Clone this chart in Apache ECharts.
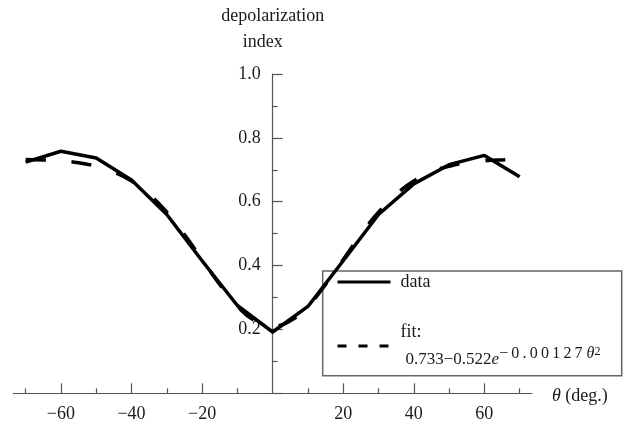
<!DOCTYPE html>
<html>
<head>
<meta charset="utf-8">
<script src="https://cdn.jsdelivr.net/npm/echarts@6/dist/echarts.min.js"></script>
<style>html,body{margin:0;padding:0;background:#fff}#c{width:624px;height:428px}</style>
</head>
<body>
<div id="c"></div>
<script>
// ---- data ----
var dataTheta = [-70, -60, -50, -40, -30, -20, -10, 0, 10, 20, 30, 40, 50, 60, 70];
var dataValues = [0.724, 0.758, 0.737, 0.668, 0.560, 0.415, 0.275, 0.192, 0.272, 0.415, 0.560, 0.656, 0.716, 0.745, 0.678];

var fitTheta = [-70, -65, -60, -55, -50, -45, -40, -35, -30, -25, -20, -15, -10, -5, 0, 5, 10, 15, 20, 25, 30, 35, 40, 45, 50, 55, 60, 65, 70];
var fitValues = [0.732, 0.731, 0.728, 0.722, 0.711, 0.693, 0.665, 0.623, 0.567, 0.497, 0.419, 0.341, 0.273, 0.227, 0.211, 0.227, 0.273, 0.341, 0.419, 0.497, 0.567, 0.623, 0.665, 0.693, 0.711, 0.722, 0.728, 0.731, 0.732];

var xMajorTicks = [-60, -40, -20, 20, 40, 60];
var xMinorTicks = [-70, -50, -30, -10, 10, 30, 50, 70];
var yTickLabels = ['0.2', '0.4', '0.6', '0.8', '1.0'];

var seriesNames = ['data', 'fit'];

// ---- chart ----
var FONT = 'Liberation Serif';
var TXT = '#1a1a1a';
var AX = '#555';
var GRID_LEFT = 13.3, GRID_RIGHT = 92, X_MIN = -73.5, X_MAX = 73.5;
var PLOT_W = 624 - GRID_LEFT - GRID_RIGHT;
// shift the y axis so it sits at theta = 0
var Y_OFFSET = -((0 - X_MIN) / (X_MAX - X_MIN)) * PLOT_W;

function pairs(xs, ys) { return xs.map(function (x, i) { return [x, ys[i]]; }); }
function spaced(s) { return s.split('').join('\u2009'); }

var chart = echarts.init(document.getElementById('c'), null, { renderer: 'canvas' });
chart.setOption({
  animation: false,
  backgroundColor: '#fff',
  textStyle: { fontFamily: FONT },
  grid: { left: GRID_LEFT, right: GRID_RIGHT, top: 74, bottom: 34.7, containLabel: false, outerBoundsMode: 'none' },
  xAxis: [{
    type: 'value', min: X_MIN, max: X_MAX, position: 'bottom',
    axisLine: { show: true, onZero: false, lineStyle: { color: AX, width: 1.2 } },
    axisTick: { show: true, inside: true, length: 10, customValues: xMajorTicks, lineStyle: { color: AX, width: 1.2 } },
    axisLabel: {
      show: true, customValues: xMajorTicks, margin: 12,
      fontFamily: FONT, fontSize: 18, color: TXT,
      formatter: function (v) { return v < 0 ? '\u2212' + (-v) : String(v); }
    },
    splitLine: { show: false },
    name: '{t|θ} {n|(deg.)}', nameLocation: 'end', nameGap: 20,
    nameTextStyle: {
      fontFamily: FONT, fontSize: 18, color: TXT, verticalAlign: 'middle', padding: [6, 0, 0, 0],
      rich: { t: { fontFamily: FONT, fontSize: 18, fontStyle: 'italic', color: TXT }, n: { fontFamily: FONT, fontSize: 18, color: TXT } }
    }
  }, {
    type: 'value', min: X_MIN, max: X_MAX, position: 'bottom',
    axisLine: { show: false, onZero: false },
    axisTick: { show: true, inside: true, length: 5, customValues: xMinorTicks, lineStyle: { color: AX, width: 1.2 } },
    axisLabel: { show: false },
    splitLine: { show: false }
  }],
  yAxis: {
    type: 'value', min: 0, max: 1, interval: 0.2, position: 'left', offset: Y_OFFSET,
    axisLine: { show: true, onZero: false, lineStyle: { color: AX, width: 1.2 } },
    axisTick: { show: true, inside: true, length: 10, lineStyle: { color: AX, width: 1.2 } },
    minorTick: { show: true, splitNumber: 2, length: 5, lineStyle: { color: AX, width: 1.2 } },
    axisLabel: {
      show: true, showMinLabel: false, margin: 12,
      fontFamily: FONT, fontSize: 18, color: TXT,
      formatter: function (v) { var i = Math.round(v / 0.2) - 1; return yTickLabels[i] || ''; }
    },
    splitLine: { show: false },
    name: '{a|depolarization}\n{b|index}', nameLocation: 'end', nameGap: 19,
    nameTextStyle: {
      fontFamily: FONT, fontSize: 18, color: TXT, align: 'center',
      rich: {
        a: { fontFamily: FONT, fontSize: 18, lineHeight: 26, color: TXT },
        b: { fontFamily: FONT, fontSize: 18, lineHeight: 26, color: TXT, padding: [0, 20, 0, 0] }
      }
    }
  },
  legend: {
    show: true, orient: 'vertical', left: 336, top: 273, padding: 0,
    itemWidth: 53, itemHeight: 14, itemGap: 32,
    itemStyle: { opacity: 0, borderWidth: 0 },
    data: [
      { name: seriesNames[0], lineStyle: { width: 3, type: 'solid' } },
      { name: seriesNames[1], lineStyle: { width: 3, type: [9, 12] } }
    ],
    textStyle: {
      fontFamily: FONT, fontSize: 18, color: TXT,
      rich: {
        d: { fontFamily: FONT, fontSize: 18, lineHeight: 20, color: TXT, padding: [0, 0, 0, 5] },
        f: { fontFamily: FONT, fontSize: 18, lineHeight: 28, color: TXT, padding: [0, 0, 0, 5] },
        b: { fontFamily: FONT, fontSize: 17, lineHeight: 28, color: TXT, verticalAlign: 'middle', padding: [0, 0, 0, 10] },
        e: { fontFamily: FONT, fontSize: 17, lineHeight: 28, color: TXT, fontStyle: 'italic', verticalAlign: 'middle' },
        s: { fontFamily: FONT, fontSize: 16, lineHeight: 20, color: TXT, verticalAlign: 'top' },
        t: { fontFamily: FONT, fontSize: 16, lineHeight: 20, color: TXT, fontStyle: 'italic', verticalAlign: 'top' },
        p: { fontFamily: FONT, fontSize: 12, lineHeight: 11, color: TXT, verticalAlign: 'top' }
      }
    },
    formatter: function (name) {
      if (name === 'data') return '{d|data}';
      return '{f|fit:}\n{b|0.733\u22120.522}{e|e}{s|' + spaced('\u22120.00127') + ' }{t|θ}{p|2}';
    }
  },
  graphic: [{
    type: 'rect', z: -1, silent: true,
    shape: { x: 322.7, y: 271, width: 299, height: 104.7 },
    style: { fill: 'none', stroke: '#666', lineWidth: 1.5 }
  }],
  series: [{
    name: seriesNames[0], type: 'line', xAxisIndex: 0, yAxisIndex: 0,
    data: pairs(dataTheta, dataValues),
    symbol: 'none', smooth: false,
    lineStyle: { color: '#000', width: 3.5, join: 'round' },
    itemStyle: { color: '#000' }
  }, {
    name: seriesNames[1], type: 'line', xAxisIndex: 0, yAxisIndex: 0,
    data: pairs(fitTheta, fitValues),
    symbol: 'none', smooth: true,
    lineStyle: { color: '#000', width: 3.5, type: [20, 26] },
    itemStyle: { color: '#000' }
  }]
});
</script>
</body>
</html>
